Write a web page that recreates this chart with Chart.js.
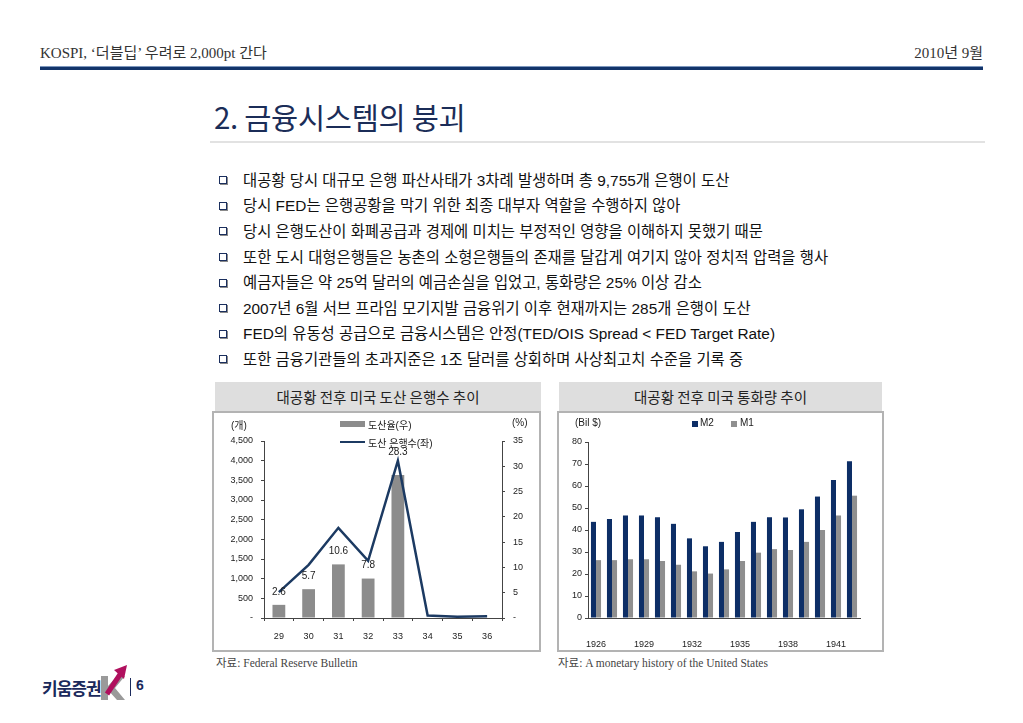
<!DOCTYPE html>
<html>
<head>
<meta charset="utf-8">
<script src="https://cdn.jsdelivr.net/npm/chart.js@4.4.1/dist/chart.umd.min.js"></script>
<style>
body { margin: 0; width: 1023px; height: 723px; background: #fff; position: relative; overflow: hidden;
       font-family: "Liberation Sans", "Noto Sans CJK KR", sans-serif; color: #111; }
.abs { position: absolute; white-space: nowrap; }
.serif { font-family: "Liberation Serif", "Noto Sans CJK KR", serif; }
.bullet { position: absolute; left: 219px; width: 6px; height: 6px; border: 1.5px solid #1b2f5e; background: #fff;
          box-shadow: 1px 1px 0 #8a8a8a; }
.line { position: absolute; left: 243px; font-size: 15.4px; height: 25.6px; line-height: 25.6px; white-space: nowrap; }
.panelHead { position: absolute; top: 382px; height: 30px; line-height: 30px; background: #dedede; text-align: center;
             font-family: "Noto Sans CJK KR", sans-serif; font-size: 14.5px; color: #222; }
.frame { position: absolute; top: 411px; height: 241px; box-sizing: border-box; border: 2px solid #b3b3b3; }
.small { font-size: 10px; color: #222; }
canvas { position: absolute; }
</style>
</head>
<body>

<div class="abs serif" style="left:40px; top:41px; font-size:15px; color:#333;">KOSPI, ‘더블딥’ 우려로 2,000pt 간다</div>
<div class="abs serif" style="right:40px; top:41px; font-size:15px; color:#333;">2010년 9월</div>
<div class="abs" style="left:40px; top:66px; width:943px; height:1px; background:#7d97bd;"></div>
<div class="abs" style="left:40px; top:67px; width:943px; height:3px; background:#12346a;"></div>

<div class="abs" style="left:214px; top:95px; font-size:29.5px; color:#1b2d58; font-family:'Noto Sans CJK KR',sans-serif; letter-spacing:-0.3px;">2. 금융시스템의 붕괴</div>
<div class="abs" style="left:210px; top:141px; width:775px; height:2px; background:#e2e2e2;"></div>

<div id="bullets"></div>

<div class="panelHead" style="left:215px; width:326px;">대공황 전후 미국 도산 은행수 추이</div>
<div class="frame" style="left:212px; width:329px;"></div>
<div class="panelHead" style="left:559px; width:323px;">대공황 전후 미국 통화량 추이</div>
<div class="frame" style="left:557px; width:327px;"></div>

<canvas id="bankChart" width="324" height="236" style="left:215px; top:414px;"></canvas>
<canvas id="moneyChart" width="323" height="236" style="left:559px; top:414px;"></canvas>

<!-- legends and unit labels -->
<div class="abs small" style="left:231px; top:417px;">(개)</div>
<div class="abs small" style="left:512px; top:417px;">(%)</div>
<div class="abs" style="left:340px; top:421px; width:25px; height:6px; background:#8c8c8c;"></div>
<div class="abs small" style="left:368px; top:417px;">도산율(우)</div>
<div class="abs" style="left:340px; top:441px; width:25px; height:2px; background:#1c3a62;"></div>
<div class="abs small" style="left:368px; top:435px;">도산 은행수(좌)</div>

<div class="abs small" style="left:575px; top:417px;">(Bil $)</div>
<div class="abs" style="left:692px; top:421px; width:6px; height:6px; background:#0d2e66;"></div>
<div class="abs small" style="left:700px; top:417px;">M2</div>
<div class="abs" style="left:731px; top:421px; width:6px; height:6px; background:#8f8f8f;"></div>
<div class="abs small" style="left:740px; top:417px;">M1</div>

<div class="abs serif" style="left:216px; top:654px; font-size:11.5px; color:#444;">자료: Federal Reserve Bulletin</div>
<div class="abs serif" style="left:558px; top:654px; font-size:11.5px; color:#444;">자료: A monetary history of the United States</div>

<div class="abs" style="left:42px; top:675px; font-size:17px; font-weight:bold; color:#1b2a5c; font-family:'Noto Sans CJK KR',sans-serif; letter-spacing:-1px;">키움증권</div>
<svg class="abs" style="left:99px; top:664px;" width="30" height="40" viewBox="0 0 30 40">
  <path d="M2 12 L9 12 L9 22 L18 12 L26 12 L16 24 L26 36 L18 36 L9 26 L9 36 L2 36 Z" fill="#9a9a9a"/>
  <path d="M8 30 L22 9" stroke="#b0105e" stroke-width="5"/>
  <path d="M15 6 L28 1 L25 15 Z" fill="#b0105e"/>
</svg>
<div class="abs" style="left:130px; top:678px; width:1px; height:18px; background:#1b2a5c;"></div>
<div class="abs" style="left:136px; top:677px; font-size:14px; font-weight:bold; color:#1b2a5c;">6</div>

<script>
const bulletTexts = [
    '대공황 당시 대규모 은행 파산사태가 3차례 발생하며 총 9,755개 은행이 도산',
    '당시 FED는 은행공황을 막기 위한 최종 대부자 역할을 수행하지 않아',
    '당시 은행도산이 화폐공급과 경제에 미치는 부정적인 영향을 이해하지 못했기 때문',
    '또한 도시 대형은행들은 농촌의 소형은행들의 존재를 달갑게 여기지 않아 정치적 압력을 행사',
    '예금자들은 약 25억 달러의 예금손실을 입었고, 통화량은 25% 이상 감소',
    '2007년 6월 서브 프라임 모기지발 금융위기 이후 현재까지는 285개 은행이 도산',
    'FED의 유동성 공급으로 금융시스템은 안정(TED/OIS Spread < FED Target Rate)',
    '또한 금융기관들의 초과지준은 1조 달러를 상회하며 사상최고치 수준을 기록 중'
];

// left chart: bank failures
const failYears = ['29', '30', '31', '32', '33', '34', '35', '36'];
const failRate = [2.6, 5.7, 10.6, 7.8, 28.3, null, null, null];
const failBanks = [659, 1350, 2293, 1453, 4000, 61, 34, 44];

// right chart: money supply
const moneyYears = ['1926', '1927', '1928', '1929', '1930', '1931', '1932', '1933', '1934',
                    '1935', '1936', '1937', '1938', '1939', '1940', '1941', '1942'];
const m2 = [43.7, 45.0, 46.6, 46.6, 45.8, 42.8, 36.2, 32.6, 34.6, 39.1, 43.7, 45.8, 45.7, 49.4, 55.2, 62.7, 71.3];
const m1 = [26.3, 26.3, 26.7, 26.7, 25.9, 24.2, 21.2, 20.2, 22.1, 25.9, 29.7, 31.3, 30.9, 34.6, 40.0, 46.6, 55.6];

const bulletBox = document.getElementById('bullets');
bulletTexts.forEach((t, i) => {
    const top = 167.7 + i * 25.6;
    const b = document.createElement('div');
    b.className = 'bullet';
    b.style.top = (top + 8.5) + 'px';
    bulletBox.appendChild(b);
    const l = document.createElement('div');
    l.className = 'line';
    l.style.top = top + 'px';
    l.textContent = t;
    bulletBox.appendChild(l);
});

Chart.defaults.font.family = '"Liberation Sans", "Noto Sans CJK KR", sans-serif';
Chart.defaults.font.size = 9;
Chart.defaults.color = '#222';

const axisColor = '#444';

// value labels above the bars; lifted over the line where the line peaks right on the label
const barLabels = {
    id: 'barLabels',
    afterDatasetsDraw(chart) {
        const ctx = chart.ctx;
        const bars = chart.getDatasetMeta(0).data;
        const pts = chart.getDatasetMeta(1).data;
        ctx.save();
        ctx.font = '10px "Liberation Sans", sans-serif';
        ctx.fillStyle = '#222';
        ctx.textAlign = 'center';
        ctx.textBaseline = 'middle';
        bars.forEach((bar, i) => {
            if (failRate[i] == null) return;
            let y = bar.y - 13;
            const p = pts[i];
            const isPeak = i > 0 && i < pts.length - 1 && failBanks[i] > failBanks[i - 1] && failBanks[i] > failBanks[i + 1];
            if (isPeak && Math.abs(p.y - y) < 10) y = p.y - 8;
            ctx.fillText(failRate[i].toFixed(1), bar.x, y);
        });
        ctx.restore();
    }
};

new Chart(document.getElementById('bankChart'), {
    type: 'bar',
    data: {
        labels: failYears,
        datasets: [
            {
                type: 'bar',
                label: '도산율(우)',
                data: failRate,
                yAxisID: 'y1',
                backgroundColor: '#8c8c8c',
                barPercentage: 1,
                categoryPercentage: 0.43,
                order: 1
            },
            {
                type: 'line',
                label: '도산 은행수(좌)',
                data: failBanks,
                yAxisID: 'y',
                borderColor: '#1c3a62',
                borderWidth: 2.5,
                pointRadius: 0,
                tension: 0,
                order: 0
            }
        ]
    },
    options: {
        responsive: false,
        animation: false,
        layout: { padding: { top: 27, left: 0, right: 0, bottom: 0 } },
        plugins: { legend: { display: false }, tooltip: { enabled: false } },
        scales: {
            x: {
                grid: { display: true, drawOnChartArea: false, tickLength: 3, color: axisColor },
                border: { color: axisColor },
                ticks: { padding: 10, maxRotation: 0 },
                afterFit: s => { s.height = 32; }
            },
            y: {
                position: 'left',
                min: 0,
                max: 4500,
                grid: { drawOnChartArea: false, tickLength: 3, color: axisColor },
                border: { color: axisColor },
                ticks: { stepSize: 500, padding: 8, callback: v => v === 0 ? '-' : v.toLocaleString('en-US') },
                afterFit: s => { s.width = 49; }
            },
            y1: {
                position: 'right',
                min: 0,
                max: 35,
                grid: { drawOnChartArea: false, tickLength: 3, color: axisColor },
                border: { color: axisColor },
                ticks: { stepSize: 5, padding: 8, callback: v => v === 0 ? '-' : v },
                afterFit: s => { s.width = 37; }
            }
        }
    },
    plugins: [barLabels]
});

new Chart(document.getElementById('moneyChart'), {
    type: 'bar',
    data: {
        labels: moneyYears,
        datasets: [
            { label: 'M2', data: m2, backgroundColor: '#0d2e66', barPercentage: 1, categoryPercentage: 0.63 },
            { label: 'M1', data: m1, backgroundColor: '#8f8f8f', barPercentage: 1, categoryPercentage: 0.63 }
        ]
    },
    options: {
        responsive: false,
        animation: false,
        layout: { padding: { top: 28, left: 0, right: 22, bottom: 0 } },
        plugins: { legend: { display: false }, tooltip: { enabled: false } },
        scales: {
            x: {
                grid: { display: false },
                border: { color: axisColor },
                ticks: {
                    autoSkip: false,
                    maxRotation: 0,
                    padding: 13,
                    callback: (v, i) => i % 3 === 0 ? moneyYears[i] : ''
                },
                afterFit: s => { s.height = 32; }
            },
            y: {
                min: 0,
                max: 80,
                grid: { drawOnChartArea: false, tickLength: 3, color: axisColor },
                border: { color: axisColor },
                ticks: { stepSize: 10, padding: 3 },
                afterFit: s => { s.width = 29; }
            }
        }
    }
});
</script>
</body>
</html>
